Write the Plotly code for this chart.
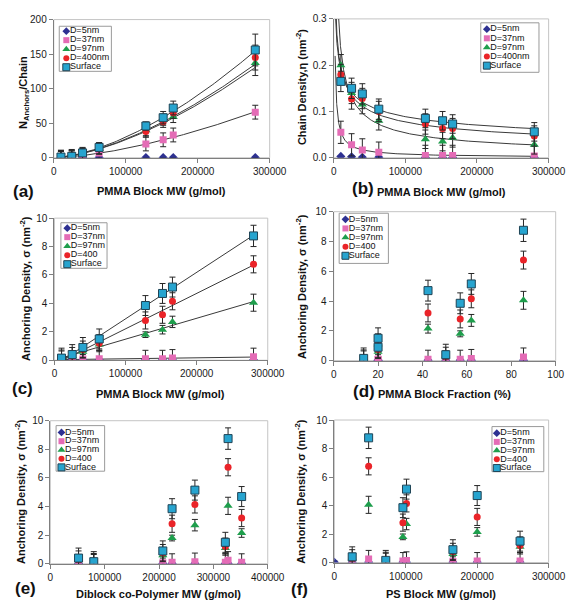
import numpy as np
import plotly.graph_objects as go

# ---------------- data (8 diblock samples) ----------------
pmma_mw = [10000, 25000, 40000, 63000, 128000, 152000, 166000, 280000]
pmma_frac = [13.5, 50.5, 20, 20, 57, 42.5, 62, 85.5]
diblock_mw = [80000, 52000, 207000, 322000, 224000, 352000, 266000, 327000]
ps_mw = [72000, 25000, 166000, 260000, 96000, 200000, 101000, 48000]
ps_mw_d5 = [0, 25000, 166000, 260000, 96000, 200000, 101000, 48000]

series_names = ["D=5nm", "D=37nm", "D=97nm", "D=400nm", "Surface"]
series_names_short = ["D=5nm", "D=37nm", "D=97nm", "D=400", "Surface"]

# anchors per chain (panel a)
n_d5 = [0.3, 0.3, 0.3, 0.3, 0.3, 0.3, 0.3, 0.3]
n_d37 = [0.5, 1, 3, 7, 20, 26, 33, 66]
n_d97 = [1, 2, 5, 13, 40, 55, 59, 137]
n_d400 = [1, 2, 6, 14, 38, 52, 65, 145]
n_surf = [1, 2, 7, 15, 46, 58, 72, 156]
n_err_d5 = [0, 0, 0, 0, 0, 0, 0, 0]
n_err_d37 = [10, 10, 10, 10, 10, 10, 10, 10]
n_err_d97 = [8, 8, 8, 8, 8, 8, 8, 18]
n_err_d400 = [8, 8, 8, 8, 8, 8, 8, 18]
n_err_surf = [10, 10, 8, 6, 6, 9, 10, 23]

# chain density (panel b)
eta_d5 = [0.003, 0.002, 0.001, 0.001, 0.0005, 0.0005, 0.0005, 0.0005]
eta_d37 = [0.055, 0.028, 0.017, 0.012, 0.005, 0.005, 0.005, 0.004]
eta_d97 = [0.2, 0.14, 0.115, 0.08, 0.04, 0.035, 0.043, 0.028]
eta_d400 = [0.18, 0.127, 0.128, 0.1, 0.073, 0.063, 0.063, 0.047]
eta_surf = [0.165, 0.15, 0.138, 0.105, 0.085, 0.08, 0.073, 0.056]
eta_err_d5 = [0.001, 0.001, 0.001, 0.001, 0.001, 0.001, 0.001, 0.001]
eta_err_d37 = [0.024, 0.024, 0.024, 0.022, 0.022, 0.022, 0.022, 0.022]
eta_err_d97 = [0.023, 0.023, 0.02, 0.02, 0.02, 0.02, 0.02, 0.02]
eta_err_d400 = [0.022, 0.022, 0.022, 0.022, 0.022, 0.022, 0.022, 0.022]
eta_err_surf = [0.022, 0.022, 0.022, 0.022, 0.02, 0.02, 0.02, 0.02]

# anchoring density (panels c-f)
sig_d5 = [0.02, 0.02, 0.02, 0.02, 0.02, 0.02, 0.02, 0.02]
sig_d37 = [0.05, 0.05, 0.08, 0.1, 0.1, 0.1, 0.15, 0.25]
sig_d97 = [0.1, 0.3, 0.6, 1.1, 1.8, 2.15, 2.7, 4.05]
sig_d400 = [0.12, 0.3, 0.75, 1.2, 2.8, 3.2, 4.15, 6.75]
sig_surf = [0.15, 0.4, 0.9, 1.5, 3.85, 4.7, 5.15, 8.75]
sig_err_d5 = [0.1, 0.1, 0.1, 0.1, 0.1, 0.1, 0.1, 0.1]
sig_err_d37 = [0.6, 0.6, 0.6, 0.6, 0.6, 0.6, 0.6, 0.6]
sig_err_d97 = [0.2, 0.2, 0.2, 0.4, 0.2, 0.3, 0.4, 0.6]
sig_err_d400 = [0.6, 0.6, 0.6, 0.6, 0.6, 0.6, 0.6, 0.6]
sig_err_surf = [0.7, 0.7, 0.7, 0.7, 0.7, 0.7, 0.7, 0.75]

# axis titles and panel labels
x_titles = ["PMMA Block MW (g/mol)", "PMMA Block MW (g/mol)", "PMMA Block MW (g/mol)",
            "PMMA Block Fraction (%)", "Diblock co-Polymer MW (g/mol)", "PS Block MW (g/mol)"]
y_titles = ["N<sub>Anchors</sub>/Chain", "Chain Density,η (nm<sup>-2</sup>)",
            "Anchoring Density, σ (nm<sup>-2</sup>)", "Anchoring Density, σ (nm<sup>-2</sup>)",
            "Anchoring Density, σ (nm<sup>-2</sup>)", "Anchoring Density, σ (nm<sup>-2</sup>)"]
panel_tags = ["(a)", "(b)", "(c)", "(d)", "(e)", "(f)"]

# ---------------- styling ----------------
W, H = 575, 601
FONT = "Liberation Sans, Arial, sans-serif"
styles = [
    dict(symbol="diamond", color="#2E3192", size=7, line=dict(width=0)),
    dict(symbol="square", color="#E46CB6", size=7, line=dict(width=0)),
    dict(symbol="triangle-up", color="#1E9E4C", size=8, line=dict(width=0)),
    dict(symbol="circle", color="#EA2429", size=7, line=dict(width=0)),
    dict(symbol="square", color="#27A4CF", size=8, line=dict(width=1, color="#1F4456")),
]
ERRC = "#262626"
LINEC = "#3A3A3A"

fig = go.Figure()

# panel pixel boxes: (left, right, top, bottom)
panels = {
    1: (44.3, 268.0, 5.7, 146.7),
    2: (334.3, 557.0, 5.0, 146.7),
    3: (45.0, 266.0, 208.3, 353.3),
    4: (334.3, 564.3, 201.7, 353.7),
    5: (40.7, 266.0, 415.0, 561.0),
    6: (335.0, 557.0, 414.3, 559.7),
}


def add_points(i, xs, ys, errs, k):
    st = styles[k]
    fig.add_trace(go.Scatter(
        x=xs, y=ys, mode="markers", xaxis=f"x{i}", yaxis=f"y{i}",
        marker=dict(symbol=st["symbol"], color=st["color"], size=st["size"], line=st["line"]),
        error_y=dict(type="data", array=errs, visible=True, color=ERRC, thickness=1, width=3),
        showlegend=False, hoverinfo="x+y",
    ))


def add_line(i, xs, ys):
    fig.add_trace(go.Scatter(x=xs, y=ys, mode="lines", xaxis=f"x{i}", yaxis=f"y{i}",
                             line=dict(color=LINEC, width=1), showlegend=False, hoverinfo="skip"))


def power_fit(x, y, grid):
    x = np.asarray(x, float); y = np.asarray(y, float)
    m = y > 0
    p = np.polyfit(np.log(x[m]), np.log(y[m]), 1)
    return np.exp(p[1]) * grid ** p[0]


def lin_fit(x, y, grid):
    p = np.polyfit(np.asarray(x, float), np.asarray(y, float), 1)
    return p[0] * grid + p[1]


# ---- panel a ----
ga = np.linspace(min(pmma_mw), max(pmma_mw), 120)
for yv in [n_d37, n_d97, n_d400, n_surf]:
    add_line(1, ga, power_fit(pmma_mw, yv, ga))
for k, (yv, ev) in enumerate([(n_d5, n_err_d5), (n_d37, n_err_d37), (n_d97, n_err_d97),
                              (n_d400, n_err_d400), (n_surf, n_err_surf)]):
    add_points(1, pmma_mw, yv, ev, k)

# ---- panel b ----
gb = np.geomspace(2000, max(pmma_mw), 250)
for yv in [eta_d37, eta_d97, eta_d400, eta_surf]:
    add_line(2, gb, power_fit(pmma_mw, yv, gb))
for k, (yv, ev) in enumerate([(eta_d5, eta_err_d5), (eta_d37, eta_err_d37), (eta_d97, eta_err_d97),
                              (eta_d400, eta_err_d400), (eta_surf, eta_err_surf)]):
    add_points(2, pmma_mw, yv, ev, k)

sig_sets = [(sig_d5, sig_err_d5), (sig_d37, sig_err_d37), (sig_d97, sig_err_d97),
            (sig_d400, sig_err_d400), (sig_surf, sig_err_surf)]

# ---- panel c ----
gc = np.array([min(pmma_mw), max(pmma_mw)], float)
for yv in [sig_d37, sig_d97, sig_d400, sig_surf]:
    add_line(3, gc, lin_fit(pmma_mw, yv, gc))
for k, (yv, ev) in enumerate(sig_sets):
    add_points(3, pmma_mw, yv, ev, k)

# ---- panel d ----
for k, (yv, ev) in enumerate(sig_sets):
    add_points(4, pmma_frac, yv, ev, k)

# ---- panel e ----
for k, (yv, ev) in enumerate(sig_sets):
    add_points(5, diblock_mw, yv, ev, k)

# ---- panel f ----
for k, (yv, ev) in enumerate(sig_sets):
    add_points(6, ps_mw_d5 if k == 0 else ps_mw, yv, ev, k)

# ---------------- axes ----------------
xranges = {1: [0, 300000], 2: [0, 300000], 3: [0, 300000], 4: [0, 100], 5: [0, 400000], 6: [0, 300000]}
xdt = {1: 100000, 2: 100000, 3: 100000, 4: 20, 5: 100000, 6: 100000}
yranges = {1: [0, 200], 2: [0, 0.3], 3: [0, 10], 4: [0, 10], 5: [0, 10], 6: [0, 10]}
ydt = {1: 50, 2: 0.1, 3: 2, 4: 2, 5: 2, 6: 2}
yfmt = {1: "d", 2: ".1f", 3: "d", 4: "d", 5: "d", 6: "d"}

axis_common = dict(showgrid=False, zeroline=False, showline=True, linecolor="#7F7F7F", linewidth=1,
                   ticks="outside", ticklen=4, tickcolor="#7F7F7F",
                   tickfont=dict(family=FONT, size=10, color="#1a1a1a"))
layout = dict(width=W, height=H, margin=dict(l=0, r=0, t=0, b=0), paper_bgcolor="white",
              plot_bgcolor="rgba(0,0,0,0)", showlegend=False, font=dict(family=FONT))
shapes = []
for i, (l, r, t, b) in panels.items():
    xa = dict(axis_common, domain=[l / W, r / W], range=xranges[i], dtick=xdt[i], tick0=0,
              tickformat="d", anchor=f"y{i}")
    ya = dict(axis_common, domain=[1 - b / H, 1 - t / H], range=yranges[i], dtick=ydt[i], tick0=0,
              tickformat=yfmt[i], anchor=f"x{i}")
    layout[f"xaxis{i}" if i > 1 else "xaxis"] = xa
    layout[f"yaxis{i}" if i > 1 else "yaxis"] = ya
    shapes.append(dict(type="rect", xref=f"x{i} domain" if i > 1 else "x domain",
                       yref=f"y{i} domain" if i > 1 else "y domain",
                       x0=0, x1=1, y0=0, y1=1, line=dict(color="#C4C4C4", width=1), layer="below"))

# overlay axis in pixel coordinates for legends and labels
layout["xaxis7"] = dict(domain=[0, 1], range=[0, W], visible=False, anchor="y7", fixedrange=True)
layout["yaxis7"] = dict(domain=[0, 1], range=[H, 0], visible=False, anchor="x7", fixedrange=True)
layout["shapes"] = shapes

# ---------------- legends ----------------
legends = [
    # box (x0, y0, x1, y1), marker x, text x, first row y, row step, labels
    ((50, 12.5, 104, 58.5), 57.3, 61.0, 17.5, 9.2, series_names),
    ((486.7, 9.0, 547, 59.5), 493.0, 496.5, 15.5, 9.3, series_names),
    ((51.7, 213.0, 99.5, 259.5), 58.3, 62.0, 218.5, 9.2, series_names_short),
    ((340.0, 203.3, 391.0, 254.5), 346.5, 350.0, 209.5, 9.3, series_names_short),
    ((46.7, 420.0, 97.0, 466.5), 52.3, 56.0, 427.0, 8.9, series_names_short),
    ((498.3, 421.0, 552, 467.0), 503.3, 507.0, 427.7, 8.9, series_names_short),
]
bx, by = [], []
for (x0, y0, x1, y1), *_ in legends:
    bx += [x0, x1, x1, x0, x0, None]
    by += [y0, y0, y1, y1, y0, None]
fig.add_trace(go.Scatter(x=bx, y=by, mode="lines", fill="toself", fillcolor="white",
                         line=dict(color="#9A9A9A", width=1), xaxis="x7", yaxis="y7",
                         showlegend=False, hoverinfo="skip"))
for k in range(5):
    mx = [lg[1] for lg in legends]
    my = [lg[3] + k * lg[4] for lg in legends]
    st = styles[k]
    fig.add_trace(go.Scatter(x=mx, y=my, mode="markers", xaxis="x7", yaxis="y7",
                             marker=dict(symbol=st["symbol"], color=st["color"], size=st["size"] - 1,
                                         line=st["line"]),
                             showlegend=False, hoverinfo="skip"))
tx, ty, tt = [], [], []
for lg in legends:
    for k, name in enumerate(lg[5]):
        tx.append(lg[2]); ty.append(lg[3] + k * lg[4]); tt.append(name)
fig.add_trace(go.Scatter(x=tx, y=ty, text=tt, mode="text", textposition="middle right",
                         textfont=dict(family=FONT, size=9, color="#111"), xaxis="x7", yaxis="y7",
                         showlegend=False, hoverinfo="skip", marker=dict(size=0)))

# ---------------- axis titles & panel labels ----------------
TF = dict(family=FONT, size=11, color="#111")
xt_pos = [(156, 181), (446, 182), (155, 388), (449, 388), (153, 592), (446, 592)]
yt_pos = [(14, 80), (300, 75), (15, 280), (301, 278), (10, 487), (300, 487)]
tag_pos = [(12.5, 181), (365, 178), (12, 382), (366, 385), (15, 586), (299, 587)]
annotations = []
for txt, (x, y) in zip(x_titles, xt_pos):
    annotations.append(dict(x=x, y=y, xref="x7", yref="y7", text=f"<b>{txt}</b>", showarrow=False,
                            xanchor="center", yanchor="middle", font=TF))
for txt, (x, y) in zip(y_titles, yt_pos):
    annotations.append(dict(x=x, y=y, xref="x7", yref="y7", text=f"<b>{txt}</b>", showarrow=False,
                            textangle=-90, xanchor="center", yanchor="middle", font=TF))
for txt, (x, y) in zip(panel_tags, tag_pos):
    annotations.append(dict(x=x, y=y, xref="x7", yref="y7", text=f"<b>{txt}</b>", showarrow=False,
                            xanchor="center", yanchor="middle",
                            font=dict(family=FONT, size=17, color="#111")))
layout["annotations"] = annotations

fig.update_layout(**layout)
fig.write_html("out.html", config={"displayModeBar": False})
